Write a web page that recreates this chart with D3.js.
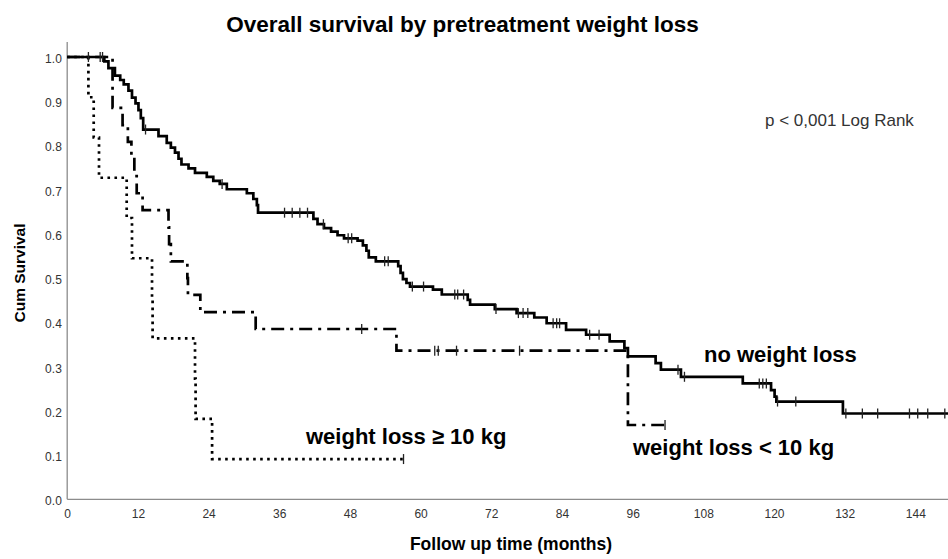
<!DOCTYPE html>
<html>
<head>
<meta charset="utf-8">
<script src="https://cdn.jsdelivr.net/npm/d3@7"></script>
<style>
  html, body { margin: 0; padding: 0; background: #fff; }
  svg { display: block; font-family: "Liberation Sans", Arial, sans-serif; }
</style>
</head>
<body>
<svg id="chart" width="948" height="559"></svg>
<script>
// Axis ticks
const monthTicks = [0, 12, 24, 36, 48, 60, 72, 84, 96, 108, 120, 132, 144];
const survivalTicks = [0, 0.1, 0.2, 0.3, 0.4, 0.5, 0.6, 0.7, 0.8, 0.9, 1.0];

// No weight loss: event times (months) and survival after each event
const noLossTimes = [6.3, 7.0, 8.1, 9.0, 9.6, 10.4, 11.0, 11.6, 12.1, 12.5,
  12.9, 15.5, 16.9, 17.6, 18.3, 18.9, 19.4, 20.6, 21.7, 23.7,
  24.8, 25.9, 27.1, 30.5, 31.6, 32.2, 32.4, 41.8, 42.5, 43.6,
  44.8, 45.9, 47.0, 49.3, 50.2, 50.8, 51.2, 52.4, 56.2, 56.6,
  57.0, 57.6, 58.2, 62.1, 63.6, 68.0, 68.4, 72.6, 76.3, 79.3,
  81.4, 84.7, 88.1, 92.1, 94.6, 95.2, 99.9, 100.8, 104.2, 114.7,
  119.5, 120.1, 120.4, 131.7];
const noLossSurv = [0.990, 0.975, 0.958, 0.948, 0.938, 0.924, 0.908, 0.895, 0.880, 0.862,
  0.836, 0.821, 0.806, 0.795, 0.784, 0.770, 0.757, 0.748, 0.738, 0.729,
  0.720, 0.713, 0.701, 0.692, 0.679, 0.665, 0.648, 0.634, 0.622, 0.613,
  0.605, 0.597, 0.590, 0.585, 0.574, 0.562, 0.547, 0.538, 0.527, 0.512,
  0.498, 0.489, 0.481, 0.474, 0.463, 0.451, 0.440, 0.430, 0.421, 0.411,
  0.398, 0.383, 0.372, 0.357, 0.342, 0.323, 0.308, 0.293, 0.277, 0.262,
  0.247, 0.232, 0.221, 0.194];
const noLossCensored = [3.6, 5.6, 6.0, 13.3, 26.3, 36.9, 38.2, 39.5, 40.8, 43.5,
  47.7, 48.3, 53.9, 54.5, 58.6, 60.5, 65.8, 66.3, 67.3, 72.8,
  76.6, 77.4, 78.2, 82.5, 83.1, 83.6, 88.7, 90.3, 103.7, 104.8,
  117.5, 118.1, 118.7, 120.6, 123.7, 132.2, 135.0, 137.6, 143.0, 144.4,
  146.1, 149.0];
const noLossEnd = 150;

// Weight loss < 10 kg
const lossUnder10Times = [7.7, 9.4, 10.3, 10.9, 11.4, 11.8, 12.8, 17.2, 17.3, 17.6,
  20.4, 20.5, 22.6, 32.0, 55.9, 95.2];
const lossUnder10Surv = [0.885, 0.846, 0.808, 0.769, 0.731, 0.692, 0.654, 0.615, 0.577, 0.538,
  0.500, 0.462, 0.423, 0.385, 0.336, 0.168];
const lossUnder10Censored = [50.0, 62.4, 63.0, 66.1, 76.8, 101.5];
const lossUnder10End = 102.0;

// Weight loss >= 10 kg
const lossOver10Times = [3.6, 4.5, 5.4, 10.1, 11.0, 14.4, 14.5, 21.7, 21.8, 24.6];
const lossOver10Surv = [0.909, 0.818, 0.727, 0.636, 0.545, 0.455, 0.364, 0.273, 0.182, 0.091];
const lossOver10Censored = [57.1];
const lossOver10End = 57.1;

const svg = d3.select("#chart");

const x = d3.scaleLinear().domain([0, 150]).range([67.2, 950.7]);
const y = d3.scaleLinear().domain([0, 1]).range([499.3, 57]);

// Axis lines
svg.append("line")
  .attr("x1", x(0)).attr("x2", 948)
  .attr("y1", y(0)).attr("y2", y(0))
  .attr("stroke", "#8c8c8c").attr("stroke-width", 1.3);
svg.append("line")
  .attr("x1", x(0)).attr("x2", x(0))
  .attr("y1", y(0)).attr("y2", y(1.034))
  .attr("stroke", "#8c8c8c").attr("stroke-width", 1.3);

// Tick labels
const xAxis = svg.append("g")
  .attr("transform", `translate(0,${y(0)})`)
  .call(d3.axisBottom(x).tickValues(monthTicks).tickSize(0).tickPadding(9.7).tickFormat(d3.format("d")));
const yAxis = svg.append("g")
  .attr("transform", `translate(${x(0)},0)`)
  .call(d3.axisLeft(y).tickValues(survivalTicks).tickSize(0).tickPadding(5.4).tickFormat(d3.format(".1f")));
[xAxis, yAxis].forEach(g => {
  g.select(".domain").remove();
  g.selectAll("text")
    .attr("fill", "#333")
    .style("font-size", "12px")
    .style("font-family", "'Liberation Sans', Arial, sans-serif");
});
yAxis.selectAll("text").attr("dy", "0.45em");

// Survival curves
function stepPoints(times, surv, end) {
  const pts = [[0, 1]];
  times.forEach((t, i) => pts.push([t, surv[i]]));
  pts.push([end, surv[surv.length - 1]]);
  return pts;
}
function survivalAt(times, surv, t) {
  let s = 1;
  times.forEach((tt, i) => { if (tt <= t) s = surv[i]; });
  return s;
}
const line = d3.line()
  .x(d => x(d[0]))
  .y(d => y(d[1]))
  .curve(d3.curveStepAfter);

const groups = [
  { times: lossOver10Times, surv: lossOver10Surv, censored: lossOver10Censored, end: lossOver10End, dash: "2.6,4.4" },
  { times: lossUnder10Times, surv: lossUnder10Surv, censored: lossUnder10Censored, end: lossUnder10End, dash: "13,6,3,6" },
  { times: noLossTimes, surv: noLossSurv, censored: noLossCensored, end: noLossEnd, dash: null }
];

groups.forEach(g => {
  svg.append("path")
    .datum(stepPoints(g.times, g.surv, g.end))
    .attr("d", line)
    .attr("fill", "none")
    .attr("stroke", "#000")
    .attr("stroke-width", 2.7)
    .attr("stroke-dasharray", g.dash);

  svg.append("g").selectAll("line")
    .data(g.censored)
    .join("line")
    .attr("x1", d => x(d)).attr("x2", d => x(d))
    .attr("y1", d => y(survivalAt(g.times, g.surv, d)) - 5)
    .attr("y2", d => y(survivalAt(g.times, g.surv, d)) + 5)
    .attr("stroke", "#222")
    .attr("stroke-width", 1.3);
});

// Titles and annotations
svg.append("text")
  .attr("x", 462.5).attr("y", 31.5)
  .attr("text-anchor", "middle")
  .style("font-size", "22.5px").style("font-weight", "bold")
  .text("Overall survival by pretreatment weight loss");

svg.append("text")
  .attr("transform", "translate(25,273) rotate(-90)")
  .attr("text-anchor", "middle")
  .style("font-size", "15.5px").style("font-weight", "bold")
  .text("Cum Survival");

svg.append("text")
  .attr("x", 511).attr("y", 550)
  .attr("text-anchor", "middle")
  .style("font-size", "17.5px").style("font-weight", "bold")
  .text("Follow up time (months)");

svg.append("text")
  .attr("x", 765).attr("y", 126)
  .attr("fill", "#333")
  .style("font-size", "17px")
  .text("p < 0,001 Log Rank");

const labels = [
  { text: "no weight loss", x: 704, y: 362 },
  { text: "weight loss < 10 kg", x: 633, y: 455 },
  { text: "weight loss \u2265 10 kg", x: 306, y: 444 }
];
svg.append("g").selectAll("text")
  .data(labels)
  .join("text")
  .attr("x", d => d.x).attr("y", d => d.y)
  .style("font-size", "22px").style("font-weight", "bold")
  .text(d => d.text);
</script>
</body>
</html>
